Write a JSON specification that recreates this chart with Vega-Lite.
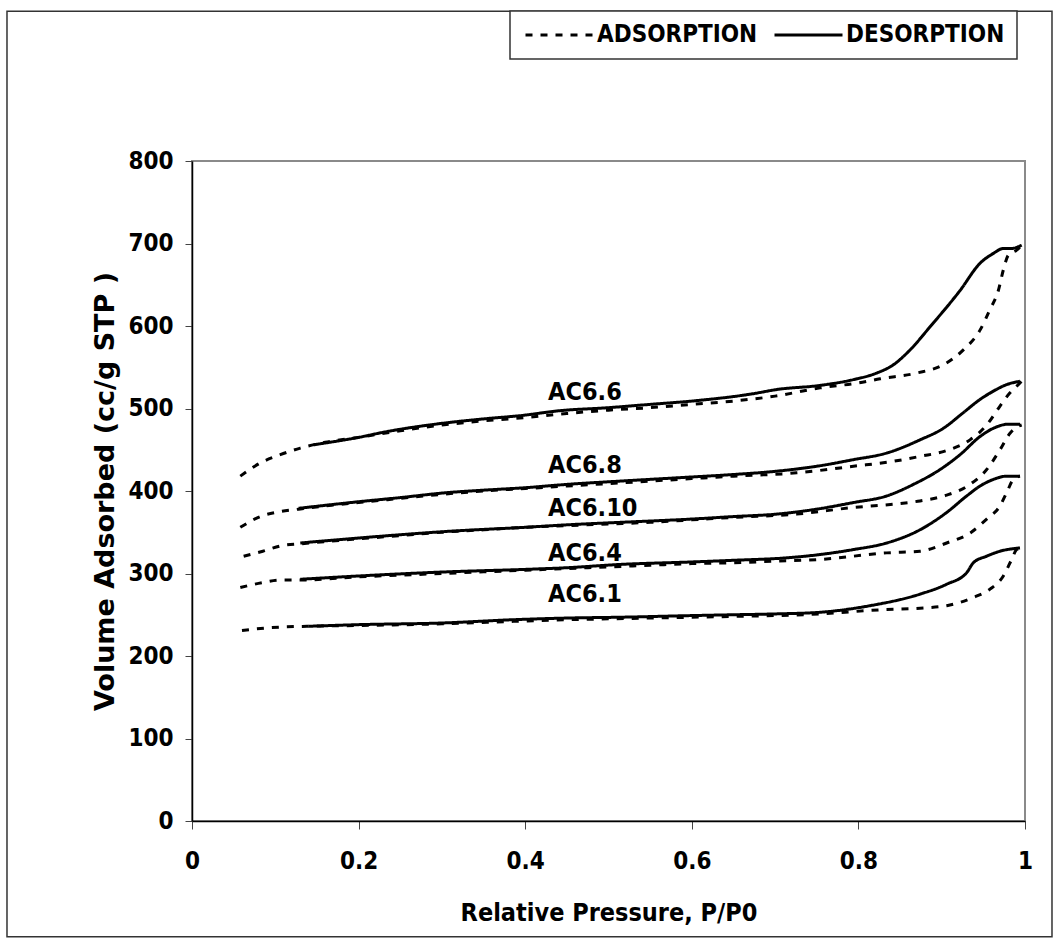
{
  "$schema": "https://vega.github.io/schema/vega-lite/v6.json",
  "width": 833,
  "height": 660,
  "autosize": {"type": "none"},
  "padding": {"left": 192, "top": 161, "right": 34, "bottom": 123},
  "background": "white",
  "config": {
    "view": {"stroke": "#8a8a8a", "strokeWidth": 2},
    "font": "DejaVu Sans Condensed",
    "axis": {
      "grid": false,
      "domainColor": "#000",
      "domainWidth": 1.5,
      "tickColor": "#444",
      "tickWidth": 1,
      "labelFont": "DejaVu Sans Condensed",
      "labelFontWeight": "bold",
      "labelFontSize": 24,
      "labelColor": "#000",
      "titleColor": "#000",
      "titleFontWeight": "bold"
    },
    "legend": {
      "orient": "none",
      "legendX": 318,
      "legendY": -150,
      "direction": "horizontal",
      "columns": 2,
      "strokeColor": "#333",
      "strokeWidth": 1.5,
      "fillColor": "white",
      "padding": 12,
      "columnPadding": 10,
      "labelOffset": 51,
      "labelLimit": 400,
      "labelFont": "DejaVu Sans Condensed",
      "labelFontWeight": "bold",
      "labelFontSize": 24,
      "labelColor": "#000",
      "symbolType": "M-1,0H7",
      "symbolSize": 289,
      "symbolStrokeWidth": 3,
      "symbolStrokeColor": "#000",
      "title": null
    }
  },
  "layer": [
    {
      "data": {"values": [{"frame": "outer"}]},
      "mark": {"type": "rect", "fill": null, "stroke": "#333", "strokeWidth": 1.5, "clip": false},
      "encoding": {
        "x": {"datum": -0.2221, "type": "quantitative", "scale": {"domain": [0, 1], "nice": false}},
        "x2": {"datum": 1.0324},
        "y": {"datum": 981.5, "type": "quantitative", "scale": {"domain": [0, 800], "nice": false}},
        "y2": {"datum": -140.4}
      }
    },
    {
      "data": {"values": [
        {"s":"AC6.6","b":"ADSORPTION","x":0.058,"y":418},{"s":"AC6.6","b":"ADSORPTION","x":0.082,"y":434},{"s":"AC6.6","b":"ADSORPTION","x":0.106,"y":444},{"s":"AC6.6","b":"ADSORPTION","x":0.13,"y":452},{"s":"AC6.6","b":"ADSORPTION","x":0.16,"y":459},{"s":"AC6.6","b":"ADSORPTION","x":0.2,"y":465},{"s":"AC6.6","b":"ADSORPTION","x":0.25,"y":473},{"s":"AC6.6","b":"ADSORPTION","x":0.3,"y":480},{"s":"AC6.6","b":"ADSORPTION","x":0.35,"y":485},{"s":"AC6.6","b":"ADSORPTION","x":0.4,"y":489},{"s":"AC6.6","b":"ADSORPTION","x":0.45,"y":494},{"s":"AC6.6","b":"ADSORPTION","x":0.5,"y":498},{"s":"AC6.6","b":"ADSORPTION","x":0.55,"y":501},{"s":"AC6.6","b":"ADSORPTION","x":0.6,"y":505},{"s":"AC6.6","b":"ADSORPTION","x":0.65,"y":509},{"s":"AC6.6","b":"ADSORPTION","x":0.7,"y":515},{"s":"AC6.6","b":"ADSORPTION","x":0.754,"y":525},{"s":"AC6.6","b":"ADSORPTION","x":0.8,"y":531},{"s":"AC6.6","b":"ADSORPTION","x":0.826,"y":536},{"s":"AC6.6","b":"ADSORPTION","x":0.87,"y":543},{"s":"AC6.6","b":"ADSORPTION","x":0.902,"y":553},{"s":"AC6.6","b":"ADSORPTION","x":0.926,"y":571},{"s":"AC6.6","b":"ADSORPTION","x":0.946,"y":595},{"s":"AC6.6","b":"ADSORPTION","x":0.958,"y":620},{"s":"AC6.6","b":"ADSORPTION","x":0.968,"y":643},{"s":"AC6.6","b":"ADSORPTION","x":0.974,"y":668},{"s":"AC6.6","b":"ADSORPTION","x":0.98,"y":686},{"s":"AC6.6","b":"ADSORPTION","x":0.99,"y":692},{"s":"AC6.6","b":"ADSORPTION","x":0.996,"y":698},
        {"s":"AC6.6","b":"DESORPTION","x":0.146,"y":456},{"s":"AC6.6","b":"DESORPTION","x":0.2,"y":465},{"s":"AC6.6","b":"DESORPTION","x":0.234,"y":472},{"s":"AC6.6","b":"DESORPTION","x":0.3,"y":482},{"s":"AC6.6","b":"DESORPTION","x":0.346,"y":487},{"s":"AC6.6","b":"DESORPTION","x":0.4,"y":492},{"s":"AC6.6","b":"DESORPTION","x":0.438,"y":497},{"s":"AC6.6","b":"DESORPTION","x":0.5,"y":501},{"s":"AC6.6","b":"DESORPTION","x":0.55,"y":505},{"s":"AC6.6","b":"DESORPTION","x":0.6,"y":509},{"s":"AC6.6","b":"DESORPTION","x":0.674,"y":518},{"s":"AC6.6","b":"DESORPTION","x":0.702,"y":523},{"s":"AC6.6","b":"DESORPTION","x":0.754,"y":528},{"s":"AC6.6","b":"DESORPTION","x":0.794,"y":535},{"s":"AC6.6","b":"DESORPTION","x":0.822,"y":543},{"s":"AC6.6","b":"DESORPTION","x":0.842,"y":553},{"s":"AC6.6","b":"DESORPTION","x":0.862,"y":571},{"s":"AC6.6","b":"DESORPTION","x":0.886,"y":599},{"s":"AC6.6","b":"DESORPTION","x":0.922,"y":643},{"s":"AC6.6","b":"DESORPTION","x":0.946,"y":676},{"s":"AC6.6","b":"DESORPTION","x":0.962,"y":688},{"s":"AC6.6","b":"DESORPTION","x":0.974,"y":694},{"s":"AC6.6","b":"DESORPTION","x":0.984,"y":694},{"s":"AC6.6","b":"DESORPTION","x":0.996,"y":698},
        {"s":"AC6.8","b":"ADSORPTION","x":0.058,"y":356},{"s":"AC6.8","b":"ADSORPTION","x":0.082,"y":369},{"s":"AC6.8","b":"ADSORPTION","x":0.106,"y":375},{"s":"AC6.8","b":"ADSORPTION","x":0.128,"y":378},{"s":"AC6.8","b":"ADSORPTION","x":0.2,"y":386},{"s":"AC6.8","b":"ADSORPTION","x":0.25,"y":391},{"s":"AC6.8","b":"ADSORPTION","x":0.3,"y":396},{"s":"AC6.8","b":"ADSORPTION","x":0.35,"y":400},{"s":"AC6.8","b":"ADSORPTION","x":0.4,"y":403},{"s":"AC6.8","b":"ADSORPTION","x":0.45,"y":406},{"s":"AC6.8","b":"ADSORPTION","x":0.5,"y":409},{"s":"AC6.8","b":"ADSORPTION","x":0.55,"y":412},{"s":"AC6.8","b":"ADSORPTION","x":0.6,"y":415},{"s":"AC6.8","b":"ADSORPTION","x":0.65,"y":418},{"s":"AC6.8","b":"ADSORPTION","x":0.726,"y":422},{"s":"AC6.8","b":"ADSORPTION","x":0.794,"y":430},{"s":"AC6.8","b":"ADSORPTION","x":0.842,"y":436},{"s":"AC6.8","b":"ADSORPTION","x":0.874,"y":442},{"s":"AC6.8","b":"ADSORPTION","x":0.906,"y":449},{"s":"AC6.8","b":"ADSORPTION","x":0.934,"y":462},{"s":"AC6.8","b":"ADSORPTION","x":0.954,"y":480},{"s":"AC6.8","b":"ADSORPTION","x":0.97,"y":503},{"s":"AC6.8","b":"ADSORPTION","x":0.982,"y":519},{"s":"AC6.8","b":"ADSORPTION","x":0.99,"y":527},{"s":"AC6.8","b":"ADSORPTION","x":0.996,"y":533},
        {"s":"AC6.8","b":"DESORPTION","x":0.128,"y":379},{"s":"AC6.8","b":"DESORPTION","x":0.2,"y":387},{"s":"AC6.8","b":"DESORPTION","x":0.25,"y":392},{"s":"AC6.8","b":"DESORPTION","x":0.306,"y":398},{"s":"AC6.8","b":"DESORPTION","x":0.35,"y":401},{"s":"AC6.8","b":"DESORPTION","x":0.4,"y":404},{"s":"AC6.8","b":"DESORPTION","x":0.45,"y":408},{"s":"AC6.8","b":"DESORPTION","x":0.514,"y":412},{"s":"AC6.8","b":"DESORPTION","x":0.6,"y":417},{"s":"AC6.8","b":"DESORPTION","x":0.65,"y":420},{"s":"AC6.8","b":"DESORPTION","x":0.702,"y":424},{"s":"AC6.8","b":"DESORPTION","x":0.75,"y":430},{"s":"AC6.8","b":"DESORPTION","x":0.794,"y":438},{"s":"AC6.8","b":"DESORPTION","x":0.834,"y":446},{"s":"AC6.8","b":"DESORPTION","x":0.874,"y":462},{"s":"AC6.8","b":"DESORPTION","x":0.902,"y":476},{"s":"AC6.8","b":"DESORPTION","x":0.926,"y":495},{"s":"AC6.8","b":"DESORPTION","x":0.946,"y":511},{"s":"AC6.8","b":"DESORPTION","x":0.962,"y":521},{"s":"AC6.8","b":"DESORPTION","x":0.978,"y":529},{"s":"AC6.8","b":"DESORPTION","x":0.994,"y":533},
        {"s":"AC6.10","b":"ADSORPTION","x":0.062,"y":321},{"s":"AC6.10","b":"ADSORPTION","x":0.085,"y":327},{"s":"AC6.10","b":"ADSORPTION","x":0.109,"y":334},{"s":"AC6.10","b":"ADSORPTION","x":0.13,"y":336},{"s":"AC6.10","b":"ADSORPTION","x":0.2,"y":342},{"s":"AC6.10","b":"ADSORPTION","x":0.25,"y":346},{"s":"AC6.10","b":"ADSORPTION","x":0.3,"y":350},{"s":"AC6.10","b":"ADSORPTION","x":0.35,"y":353},{"s":"AC6.10","b":"ADSORPTION","x":0.4,"y":356},{"s":"AC6.10","b":"ADSORPTION","x":0.45,"y":358},{"s":"AC6.10","b":"ADSORPTION","x":0.5,"y":360},{"s":"AC6.10","b":"ADSORPTION","x":0.55,"y":362},{"s":"AC6.10","b":"ADSORPTION","x":0.6,"y":365},{"s":"AC6.10","b":"ADSORPTION","x":0.65,"y":368},{"s":"AC6.10","b":"ADSORPTION","x":0.726,"y":372},{"s":"AC6.10","b":"ADSORPTION","x":0.794,"y":380},{"s":"AC6.10","b":"ADSORPTION","x":0.842,"y":384},{"s":"AC6.10","b":"ADSORPTION","x":0.874,"y":388},{"s":"AC6.10","b":"ADSORPTION","x":0.906,"y":395},{"s":"AC6.10","b":"ADSORPTION","x":0.934,"y":408},{"s":"AC6.10","b":"ADSORPTION","x":0.954,"y":426},{"s":"AC6.10","b":"ADSORPTION","x":0.97,"y":450},{"s":"AC6.10","b":"ADSORPTION","x":0.982,"y":470},{"s":"AC6.10","b":"ADSORPTION","x":0.988,"y":476},{"s":"AC6.10","b":"ADSORPTION","x":0.996,"y":480},
        {"s":"AC6.10","b":"DESORPTION","x":0.13,"y":337},{"s":"AC6.10","b":"DESORPTION","x":0.2,"y":343},{"s":"AC6.10","b":"DESORPTION","x":0.25,"y":347},{"s":"AC6.10","b":"DESORPTION","x":0.306,"y":351},{"s":"AC6.10","b":"DESORPTION","x":0.4,"y":356},{"s":"AC6.10","b":"DESORPTION","x":0.45,"y":359},{"s":"AC6.10","b":"DESORPTION","x":0.514,"y":362},{"s":"AC6.10","b":"DESORPTION","x":0.6,"y":366},{"s":"AC6.10","b":"DESORPTION","x":0.65,"y":369},{"s":"AC6.10","b":"DESORPTION","x":0.702,"y":372},{"s":"AC6.10","b":"DESORPTION","x":0.75,"y":378},{"s":"AC6.10","b":"DESORPTION","x":0.794,"y":386},{"s":"AC6.10","b":"DESORPTION","x":0.834,"y":394},{"s":"AC6.10","b":"DESORPTION","x":0.866,"y":408},{"s":"AC6.10","b":"DESORPTION","x":0.898,"y":426},{"s":"AC6.10","b":"DESORPTION","x":0.922,"y":444},{"s":"AC6.10","b":"DESORPTION","x":0.946,"y":466},{"s":"AC6.10","b":"DESORPTION","x":0.962,"y":476},{"s":"AC6.10","b":"DESORPTION","x":0.98,"y":481},{"s":"AC6.10","b":"DESORPTION","x":0.994,"y":481},
        {"s":"AC6.4","b":"ADSORPTION","x":0.058,"y":283},{"s":"AC6.4","b":"ADSORPTION","x":0.085,"y":289},{"s":"AC6.4","b":"ADSORPTION","x":0.106,"y":292},{"s":"AC6.4","b":"ADSORPTION","x":0.13,"y":292},{"s":"AC6.4","b":"ADSORPTION","x":0.2,"y":296},{"s":"AC6.4","b":"ADSORPTION","x":0.25,"y":298},{"s":"AC6.4","b":"ADSORPTION","x":0.3,"y":300},{"s":"AC6.4","b":"ADSORPTION","x":0.35,"y":302},{"s":"AC6.4","b":"ADSORPTION","x":0.4,"y":304},{"s":"AC6.4","b":"ADSORPTION","x":0.45,"y":306},{"s":"AC6.4","b":"ADSORPTION","x":0.5,"y":308},{"s":"AC6.4","b":"ADSORPTION","x":0.55,"y":310},{"s":"AC6.4","b":"ADSORPTION","x":0.6,"y":312},{"s":"AC6.4","b":"ADSORPTION","x":0.65,"y":313},{"s":"AC6.4","b":"ADSORPTION","x":0.7,"y":315},{"s":"AC6.4","b":"ADSORPTION","x":0.754,"y":317},{"s":"AC6.4","b":"ADSORPTION","x":0.834,"y":325},{"s":"AC6.4","b":"ADSORPTION","x":0.874,"y":327},{"s":"AC6.4","b":"ADSORPTION","x":0.906,"y":337},{"s":"AC6.4","b":"ADSORPTION","x":0.934,"y":349},{"s":"AC6.4","b":"ADSORPTION","x":0.954,"y":366},{"s":"AC6.4","b":"ADSORPTION","x":0.97,"y":382},{"s":"AC6.4","b":"ADSORPTION","x":0.978,"y":398},{"s":"AC6.4","b":"ADSORPTION","x":0.986,"y":414},{"s":"AC6.4","b":"ADSORPTION","x":0.994,"y":418},
        {"s":"AC6.4","b":"DESORPTION","x":0.13,"y":293},{"s":"AC6.4","b":"DESORPTION","x":0.2,"y":297},{"s":"AC6.4","b":"DESORPTION","x":0.306,"y":302},{"s":"AC6.4","b":"DESORPTION","x":0.4,"y":305},{"s":"AC6.4","b":"DESORPTION","x":0.45,"y":307},{"s":"AC6.4","b":"DESORPTION","x":0.514,"y":311},{"s":"AC6.4","b":"DESORPTION","x":0.6,"y":314},{"s":"AC6.4","b":"DESORPTION","x":0.65,"y":316},{"s":"AC6.4","b":"DESORPTION","x":0.714,"y":319},{"s":"AC6.4","b":"DESORPTION","x":0.754,"y":323},{"s":"AC6.4","b":"DESORPTION","x":0.794,"y":329},{"s":"AC6.4","b":"DESORPTION","x":0.834,"y":337},{"s":"AC6.4","b":"DESORPTION","x":0.874,"y":353},{"s":"AC6.4","b":"DESORPTION","x":0.906,"y":374},{"s":"AC6.4","b":"DESORPTION","x":0.93,"y":394},{"s":"AC6.4","b":"DESORPTION","x":0.946,"y":406},{"s":"AC6.4","b":"DESORPTION","x":0.962,"y":414},{"s":"AC6.4","b":"DESORPTION","x":0.978,"y":418},{"s":"AC6.4","b":"DESORPTION","x":0.994,"y":418},
        {"s":"AC6.1","b":"ADSORPTION","x":0.06,"y":231},{"s":"AC6.1","b":"ADSORPTION","x":0.09,"y":234},{"s":"AC6.1","b":"ADSORPTION","x":0.106,"y":235},{"s":"AC6.1","b":"ADSORPTION","x":0.138,"y":236},{"s":"AC6.1","b":"ADSORPTION","x":0.2,"y":237},{"s":"AC6.1","b":"ADSORPTION","x":0.3,"y":239},{"s":"AC6.1","b":"ADSORPTION","x":0.386,"y":242},{"s":"AC6.1","b":"ADSORPTION","x":0.45,"y":244},{"s":"AC6.1","b":"ADSORPTION","x":0.5,"y":245},{"s":"AC6.1","b":"ADSORPTION","x":0.55,"y":246},{"s":"AC6.1","b":"ADSORPTION","x":0.6,"y":247},{"s":"AC6.1","b":"ADSORPTION","x":0.65,"y":248},{"s":"AC6.1","b":"ADSORPTION","x":0.7,"y":249},{"s":"AC6.1","b":"ADSORPTION","x":0.754,"y":251},{"s":"AC6.1","b":"ADSORPTION","x":0.826,"y":256},{"s":"AC6.1","b":"ADSORPTION","x":0.874,"y":258},{"s":"AC6.1","b":"ADSORPTION","x":0.906,"y":261},{"s":"AC6.1","b":"ADSORPTION","x":0.938,"y":271},{"s":"AC6.1","b":"ADSORPTION","x":0.958,"y":281},{"s":"AC6.1","b":"ADSORPTION","x":0.974,"y":297},{"s":"AC6.1","b":"ADSORPTION","x":0.984,"y":317},{"s":"AC6.1","b":"ADSORPTION","x":0.99,"y":329},{"s":"AC6.1","b":"ADSORPTION","x":0.996,"y":331},
        {"s":"AC6.1","b":"DESORPTION","x":0.14,"y":236},{"s":"AC6.1","b":"DESORPTION","x":0.2,"y":238},{"s":"AC6.1","b":"DESORPTION","x":0.3,"y":240},{"s":"AC6.1","b":"DESORPTION","x":0.386,"y":244},{"s":"AC6.1","b":"DESORPTION","x":0.45,"y":246},{"s":"AC6.1","b":"DESORPTION","x":0.514,"y":247},{"s":"AC6.1","b":"DESORPTION","x":0.6,"y":249},{"s":"AC6.1","b":"DESORPTION","x":0.65,"y":250},{"s":"AC6.1","b":"DESORPTION","x":0.7,"y":251},{"s":"AC6.1","b":"DESORPTION","x":0.754,"y":253},{"s":"AC6.1","b":"DESORPTION","x":0.814,"y":261},{"s":"AC6.1","b":"DESORPTION","x":0.874,"y":275},{"s":"AC6.1","b":"DESORPTION","x":0.906,"y":287},{"s":"AC6.1","b":"DESORPTION","x":0.93,"y":301},{"s":"AC6.1","b":"DESORPTION","x":0.938,"y":313},{"s":"AC6.1","b":"DESORPTION","x":0.954,"y":321},{"s":"AC6.1","b":"DESORPTION","x":0.97,"y":327},{"s":"AC6.1","b":"DESORPTION","x":0.994,"y":331}
      ]},
      "mark": {"type": "line", "color": "#000", "strokeWidth": 3, "interpolate": "monotone"},
      "encoding": {
        "x": {
          "field": "x", "type": "quantitative",
          "scale": {"domain": [0, 1], "nice": false},
          "axis": {
            "values": [0, 0.2, 0.4, 0.6, 0.8, 1],
            "format": "~g",
            "labelFlush": false,
            "tickSize": 8,
            "labelPadding": 20,
            "title": "Relative Pressure, P/P0",
            "titleFont": "DejaVu Sans Condensed",
            "titleFontSize": 25,
            "titlePadding": 27
          }
        },
        "y": {
          "field": "y", "type": "quantitative",
          "scale": {"domain": [0, 800], "nice": false},
          "axis": {
            "values": [0, 100, 200, 300, 400, 500, 600, 700, 800],
            "tickSize": 7,
            "labelPadding": 12,
            "title": "Volume Adsorbed (cc/g STP )",
            "titleFont": "DejaVu Sans",
            "titleFontSize": 27,
            "titlePadding": 8
          }
        },
        "detail": {"field": "s"},
        "strokeDash": {
          "field": "b", "type": "nominal",
          "scale": {"domain": ["ADSORPTION", "DESORPTION"], "range": [[7, 8], [1, 0]]}
        },
        "order": {"field": "x", "type": "quantitative"}
      }
    },
    {
      "data": {"values": [
        {"label": "AC6.6", "x": 0.4274, "y": 510.7},
        {"label": "AC6.8", "x": 0.4274, "y": 422.4},
        {"label": "AC6.10", "x": 0.4274, "y": 369.1},
        {"label": "AC6.4", "x": 0.4274, "y": 314.7},
        {"label": "AC6.1", "x": 0.4274, "y": 265}
      ]},
      "mark": {"type": "text", "align": "left", "baseline": "alphabetic", "font": "DejaVu Sans Condensed", "fontWeight": "bold", "fontSize": 25, "color": "#000"},
      "encoding": {
        "x": {"field": "x", "type": "quantitative"},
        "y": {"field": "y", "type": "quantitative"},
        "text": {"field": "label"}
      }
    }
  ]
}
